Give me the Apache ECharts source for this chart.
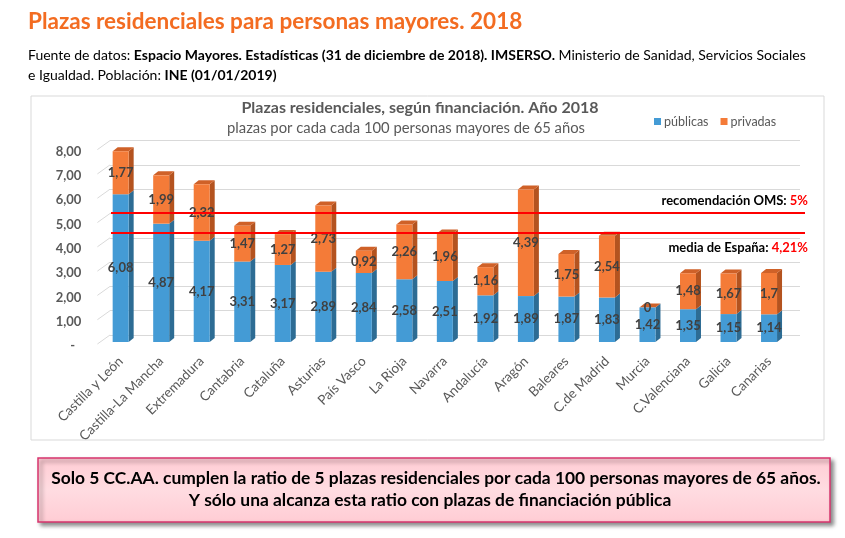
<!DOCTYPE html>
<html><head><meta charset="utf-8">
<script src="https://cdn.jsdelivr.net/npm/echarts/dist/echarts.min.js"></script>
<style>html,body{margin:0;padding:0;background:#fff}#c{width:845px;height:538px}</style>
</head><body><div id="c"></div>
<script>
// ---- data ----
const categories = ['Castilla y León','Castilla-La Mancha','Extremadura','Cantabria','Cataluña','Asturias','País Vasco','La Rioja','Navarra','Andalucía','Aragón','Baleares','C.de Madrid','Murcia','C.Valenciana','Galicia','Canarias'];
const publicas = [6.08,4.87,4.17,3.31,3.17,2.89,2.84,2.58,2.51,1.92,1.89,1.87,1.83,1.42,1.35,1.15,1.14];
const privadas = [1.77,1.99,2.32,1.47,1.27,2.73,0.92,2.26,1.96,1.16,4.39,1.75,2.54,0,1.48,1.67,1.7];
const yTicks = [0,1,2,3,4,5,6,7,8];
// annotation lines (as drawn in the picture, on the bar scale)
const refLines = [
  {value: 5.3, name: 'recomendación OMS: ', pct: '5%', pos: 'insideEndTop', dist: 6},
  {value: 4.5, name: 'media de España: ', pct: '4,21%', pos: 'insideEndBottom', dist: 9}
];

const FONT = 'Lato';
const GREY = '#595959';
const BLUE = '#449BD5', BLUE_SIDE = '#2D6C94';
const ORANGE = '#F47B38', ORANGE_SIDE = '#B4531F', ORANGE_TOP = '#CF6128';
const fmt = v => String(v).replace('.', ',');
const DX = 5, DY = -4;

const chart = echarts.init(document.getElementById('c'), null, {renderer: 'canvas'});

function depthItem(params, api) {
  const i = api.value(0), pub = api.value(1), priv = api.value(2);
  const hw = 8;
  const p0 = api.coord([i, 0]), p1 = api.coord([i, pub]), p2 = api.coord([i, pub + priv]);
  const xr = p0[0] + hw, xl = p0[0] - hw;
  const side = (yb, yt, color) => ({
    type: 'polygon',
    shape: {points: [[xr, yb], [xr + DX, yb + DY], [xr + DX, yt + DY], [xr, yt]]},
    style: {fill: color}
  });
  const children = [side(p0[1], p1[1], BLUE_SIDE)];
  if (priv > 0) children.push(side(p1[1], p2[1], ORANGE_SIDE));
  children.push({
    type: 'polygon',
    shape: {points: [[xl, p2[1]], [xr, p2[1]], [xr + DX, p2[1] + DY], [xl + DX, p2[1] + DY]]},
    style: {fill: ORANGE_TOP}
  });
  return {type: 'group', children};
}

function slantItem(params, api) {
  const v = api.value(0);
  const c = api.coord([0, v]);
  const band = api.size([1, 0])[0];
  const left = c[0] - band / 2;
  return {
    type: 'line',
    shape: {x1: left - 3, y1: c[1] + 2, x2: left + 9.6, y2: c[1] - 7},
    style: {stroke: '#D9D9D9', lineWidth: 1}
  };
}

const option = {
  animation: false,
  textStyle: {fontFamily: FONT},
  grid: [
    {left: 100.4, right: 55.7, top: 147.6, bottom: 196},
    {left: 110, right: 45, top: 140.6, bottom: 203},
    {left: 111, right: 40, top: 147.6, bottom: 196}
  ],
  xAxis: [
    {type: 'category', gridIndex: 0, data: categories,
      axisLine: {show: false}, axisTick: {show: false},
      axisLabel: {rotate: 45, margin: 17, color: GREY, fontSize: 13.5, fontFamily: FONT, interval: 0}},
    {type: 'value', gridIndex: 1, show: false, min: 0, max: 1},
    {type: 'value', gridIndex: 2, show: false, min: 0, max: 1}
  ],
  yAxis: [
    {type: 'value', gridIndex: 0, min: 0, max: 8, interval: 1,
      axisLine: {show: false}, axisTick: {show: false}, splitLine: {show: false},
      axisLabel: {margin: 19, color: GREY, fontSize: 13, fontWeight: 'bold', fontFamily: FONT,
        verticalAlign: 'top', lineHeight: 8,
        formatter: v => v === 0 ? '-  ' : v.toFixed(2).replace('.', ',')}},
    {type: 'value', gridIndex: 1, min: 0, max: 8, interval: 1,
      axisLine: {show: false}, axisTick: {show: false}, axisLabel: {show: false},
      splitLine: {show: true, lineStyle: {color: '#D9D9D9', width: 1}}},
    {type: 'value', gridIndex: 2, min: 0, max: 8, show: false}
  ],
  legend: {
    data: ['públicas', 'privadas'], left: 649, top: 110, icon: 'rect',
    itemWidth: 7, itemHeight: 7, itemGap: 12,
    textStyle: {color: GREY, fontSize: 12.5, fontFamily: FONT, padding: [0, 0, 0, -2]}
  },
  series: [
    {type: 'custom', name: 'depth', xAxisIndex: 0, yAxisIndex: 0, z: 1, silent: true,
      renderItem: depthItem,
      data: categories.map((c, i) => [i, publicas[i], privadas[i]])},
    {type: 'custom', name: 'slant', xAxisIndex: 0, yAxisIndex: 0, z: 0, silent: true,
      renderItem: slantItem, data: yTicks.map(v => [v])},
    {type: 'bar', name: 'públicas', stack: 'a', xAxisIndex: 0, yAxisIndex: 0, z: 2,
      barWidth: 16, itemStyle: {color: BLUE}, data: publicas,
      label: {show: true, position: 'inside', color: '#404040', fontSize: 13, fontWeight: 'bold',
        fontFamily: FONT, formatter: p => fmt(p.value)}},
    {type: 'bar', name: 'privadas', stack: 'a', xAxisIndex: 0, yAxisIndex: 0, z: 2,
      barWidth: 16, itemStyle: {color: ORANGE}, data: privadas,
      label: {show: true, position: 'inside', color: '#404040', fontSize: 13, fontWeight: 'bold',
        fontFamily: FONT, formatter: p => fmt(p.value)}},
    {type: 'line', name: 'ref', xAxisIndex: 2, yAxisIndex: 2, data: [], silent: true, z: 5,
      markLine: {
        symbol: 'none', silent: true,
        lineStyle: {color: '#FF0000', width: 2, type: 'solid'},
        data: refLines.map(r => ({
          yAxis: r.value,
          label: {show: true, position: r.pos, distance: [-3, r.dist],
            formatter: '{a|' + r.name + '}{b|' + r.pct + '}',
            rich: {a: {fontFamily: FONT, fontWeight: 'bold', fontSize: 13, color: '#000'},
                   b: {fontFamily: FONT, fontWeight: 'bold', fontSize: 13, color: '#FF0000'}}}
        }))
      }}
  ],
  graphic: [
    {type: 'text', left: 28, top: 10, style: {text: 'Plazas residenciales para personas mayores. 2018',
      fill: '#F36C21', font: 'bold 22.5px ' + FONT}},
    {type: 'text', left: 28, top: 48, style: {
      text: '{n|Fuente de datos: }{b|Espacio Mayores. Estadísticas (31 de diciembre de 2018). IMSERSO.}{n| Ministerio de Sanidad, Servicios Sociales}\n{n|e Igualdad. Población: }{b|INE (01/01/2019)}',
      rich: {n: {fontFamily: FONT, fontSize: 14, color: '#000', lineHeight: 20},
             b: {fontFamily: FONT, fontSize: 14, fontWeight: 'bold', color: '#000', lineHeight: 20}}}},
    {type: 'rect', shape: {x: 31, y: 96, width: 793, height: 344},
      style: {fill: 'none', stroke: '#D9D9D9', lineWidth: 1}, z: -10},
    {type: 'text', x: 420, y: 108, style: {text: 'Plazas residenciales, según financiación. Año 2018',
      fill: GREY, font: 'bold 16px ' + FONT, textAlign: 'center', textVerticalAlign: 'middle'}},
    {type: 'text', x: 406, y: 128, style: {text: 'plazas por cada cada 100 personas mayores de 65 años',
      fill: GREY, font: '14.8px ' + FONT, textAlign: 'center', textVerticalAlign: 'middle'}},
    {type: 'rect', shape: {x: 38, y: 458, width: 792, height: 64},
      style: {fill: new echarts.graphic.LinearGradient(0, 0, 0, 1, [
        {offset: 0, color: '#FFCCD4'}, {offset: 0.5, color: '#FFDCE1'}, {offset: 1, color: '#FFCCD4'}]),
        stroke: '#D8346E', lineWidth: 1.5,
        shadowBlur: 4, shadowOffsetX: 3, shadowOffsetY: 3, shadowColor: 'rgba(0,0,0,0.45)'}},
    {type: 'text', x: 436, y: 478, style: {text: 'Solo 5 CC.AA. cumplen la ratio de 5 plazas residenciales por cada 100 personas mayores de 65 años.',
      fill: '#000', font: 'bold 17.4px ' + FONT, textAlign: 'center', textVerticalAlign: 'middle'}},
    {type: 'text', x: 430, y: 500, style: {text: 'Y sólo una alcanza esta ratio con plazas de financiación pública',
      fill: '#000', font: 'bold 17.4px ' + FONT, textAlign: 'center', textVerticalAlign: 'middle'}}
  ]
};
chart.setOption(option);
</script></body></html>
